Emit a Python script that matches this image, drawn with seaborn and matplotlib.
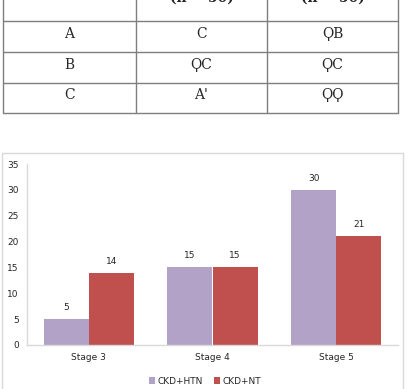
import matplotlib
matplotlib.use("Agg")
import matplotlib.pyplot as plt
import seaborn as sns
import pandas as pd
from matplotlib.patches import Rectangle

# data
stages = ["Stage 3", "Stage 4", "Stage 5"]
ckd_htn = [5, 15, 30]
ckd_nt = [14, 15, 21]
groups = ["CKD+HTN", "CKD+NT"]
colors = ["#B3A2C7", "#C0504D"]
yticks = [0, 5, 10, 15, 20, 25, 30, 35]

# table text above the chart (garbled glyphs in the source)
table_header = ["", "(n = 50)", "(n = 50)"]
table_rows = [["A", "C", "ϘB"],
              ["B", "ϘC", "ϘC"],
              ["C", "A'", "ϘϘ"]]

df = pd.DataFrame({
    "stage": stages * 2,
    "value": ckd_htn + ckd_nt,
    "group": [groups[0]] * 3 + [groups[1]] * 3,
})

sns.set_style("white")
plt.rcParams["font.family"] = ["DejaVu Sans"]

W, H = 409, 389
fig = plt.figure(figsize=(W / 100, H / 100), dpi=100)

# background axes in pixel coordinates for the table and the chart frame
bg = fig.add_axes([0, 0, 1, 1])
bg.set_xlim(0, W)
bg.set_ylim(H, 0)
bg.axis("off")

tcol = "#7f7f7f"
xs = [3, 136, 267, 398]
ys = [-5, 21, 52, 83, 113]
for y in ys[1:]:
    bg.plot([xs[0], xs[-1]], [y, y], color=tcol, lw=1)
for x in xs:
    bg.plot([x, x], [ys[0], ys[-1]], color=tcol, lw=1)
centers = [(xs[i] + xs[i + 1]) / 2 for i in range(3)]
# header row is cut by the top edge, as in the source image
for i, h in enumerate(table_header):
    bg.text(centers[i], -2, h, ha="center", va="center", fontsize=10,
            family="DejaVu Serif", fontweight="bold", clip_on=False)
for r, row in enumerate(table_rows):
    yc = (ys[r + 1] + ys[r + 2]) / 2 - 3
    for i, t in enumerate(row):
        bg.text(centers[i], yc, t, ha="center", va="center", fontsize=10,
                family="DejaVu Serif")

# chart frame
bg.add_patch(Rectangle((2, 153), 401, 240, fill=False, ec="#d9d9d9", lw=1))

# bar chart
ax = fig.add_axes([27 / W, (H - 345) / H, 371 / W, 181 / H])
sns.barplot(data=df, x="stage", y="value", hue="group", palette=colors,
            width=0.73, saturation=1, linewidth=0, ax=ax, legend=True)
ax.set_ylim(0, 35)
ax.set_yticks(yticks)
ax.set_xlabel("")
ax.set_ylabel("")
ax.tick_params(axis="both", labelsize=6.5, length=0, pad=6)
for s in ["top", "right"]:
    ax.spines[s].set_visible(False)
for s in ["left", "bottom"]:
    ax.spines[s].set_color("#d9d9d9")
    ax.spines[s].set_linewidth(1)
for c in ax.containers:
    ax.bar_label(c, fontsize=6.5, padding=5)

leg = ax.legend(loc="upper center", bbox_to_anchor=(0.48, -0.13), ncol=2,
                frameon=False, fontsize=6.5, handlelength=0.7, handleheight=0.7,
                handletextpad=0.3, columnspacing=1.2)

fig.savefig("out.png", dpi=100)
